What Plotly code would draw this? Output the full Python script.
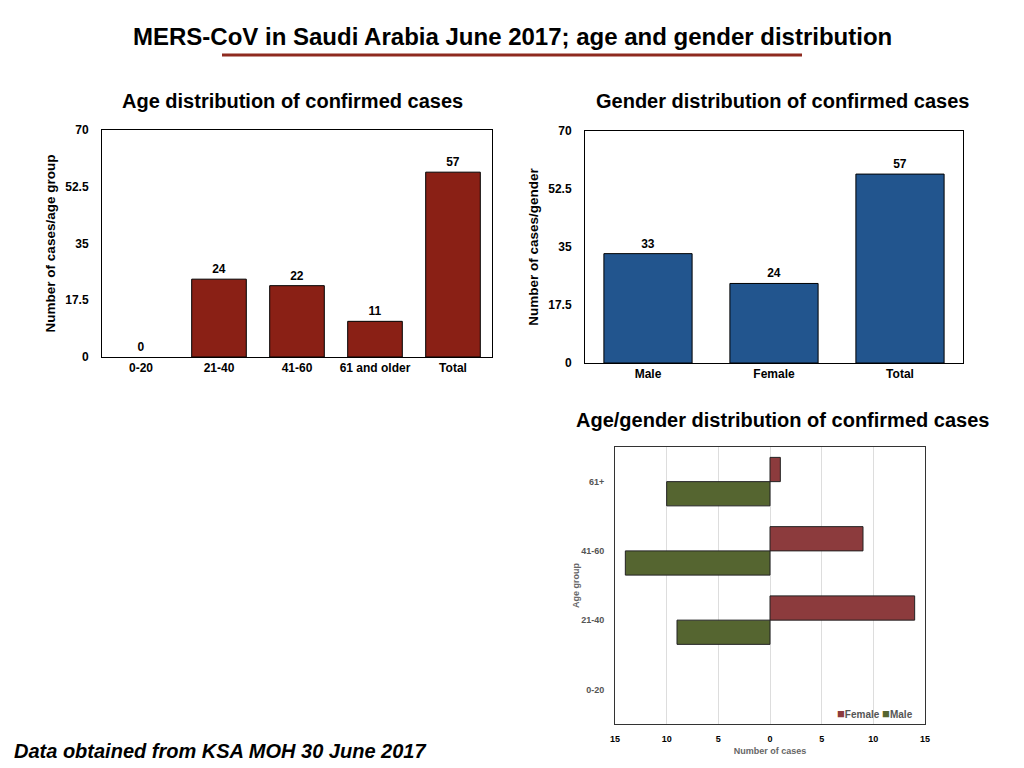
import plotly.graph_objects as go

# data
age_groups = ["0-20", "21-40", "41-60", "61 and older", "Total"]
age_cases = [0, 24, 22, 11, 57]

genders = ["Male", "Female", "Total"]
gender_cases = [33, 24, 57]

pyr_groups = ["0-20", "21-40", "41-60", "61+"]
pyr_female = [0, 14, 9, 1]
pyr_male = [0, 9, 14, 10]

y_ticks = [0, 17.5, 35, 52.5, 70]
x_ticks = [-15, -10, -5, 0, 5, 10, 15]

FONT = "Liberation Sans"
RED = "#8a2015"
BLUE = "#22558e"
F_COL = "#8c3b3d"
M_COL = "#556530"

# page body adds an 8px offset, so the figure is a bit smaller
W, H, OFF = 1016, 760, 8


def px_x(v):
    return (v - OFF) / W


def px_y(v):
    return 1 - (v - OFF) / H


def edge(vals, w=1):
    # no outline on empty bars
    return [0 if v == 0 else w for v in vals]


fig = go.Figure()

######### AGE #########
fig.add_trace(
    go.Bar(
        x=age_groups,
        y=age_cases,
        text=age_cases,
        textposition="outside",
        cliponaxis=False,
        marker=dict(color=RED, line=dict(color="black", width=edge(age_cases))),
        textfont=dict(family=FONT, size=12, color="black", weight="bold"),
        showlegend=False,
        xaxis="x",
        yaxis="y",
    )
)

######### GENDER #########
fig.add_trace(
    go.Bar(
        x=genders,
        y=gender_cases,
        text=gender_cases,
        textposition="outside",
        cliponaxis=False,
        marker=dict(color=BLUE, line=dict(color="black", width=1)),
        textfont=dict(family=FONT, size=12, color="black", weight="bold"),
        showlegend=False,
        xaxis="x2",
        yaxis="y2",
    )
)

######### PYRAMID #########
fig.add_trace(
    go.Bar(
        y=pyr_groups,
        x=[-v for v in pyr_male],
        orientation="h",
        name="Male",
        marker=dict(color=M_COL, line=dict(color="#222", width=edge(pyr_male))),
        showlegend=False,
        xaxis="x3",
        yaxis="y3",
    )
)
fig.add_trace(
    go.Bar(
        y=pyr_groups,
        x=pyr_female,
        orientation="h",
        name="Female",
        marker=dict(color=F_COL, line=dict(color="#222", width=edge(pyr_female))),
        showlegend=False,
        xaxis="x3",
        yaxis="y3",
    )
)

tick_font = dict(family=FONT, size=12, color="black", weight="bold")
ytitle_font = dict(family=FONT, size=13.5, color="black", weight="bold")
box = dict(showline=True, linecolor="black", linewidth=1, mirror=True, automargin=False)

fig.update_layout(
    width=W,
    height=H,
    margin=dict(l=0, r=0, t=0, b=0, autoexpand=False),
    paper_bgcolor="white",
    plot_bgcolor="white",
    barmode="group",
    font=dict(family=FONT),
    xaxis=dict(
        domain=[px_x(102), px_x(492)],
        anchor="y",
        tickfont=tick_font,
        ticks="",
        **box,
    ),
    yaxis=dict(
        domain=[px_y(357), px_y(130)],
        anchor="x",
        range=[0, 70],
        tickvals=y_ticks,
        ticktext=["0", "17.5", "35", "52.5", "70"],
        tickfont=tick_font,
        showgrid=False,
        ticks="",
        ticklabelstandoff=10,
        title=dict(text="Number of cases/age group", font=ytitle_font, standoff=6),
        **box,
    ),
    xaxis2=dict(
        domain=[px_x(585), px_x(963)],
        anchor="y2",
        tickfont=tick_font,
        ticks="",
        **box,
    ),
    yaxis2=dict(
        domain=[px_y(363), px_y(131)],
        anchor="x2",
        range=[0, 70],
        tickvals=y_ticks,
        ticktext=["0", "17.5", "35", "52.5", "70"],
        tickfont=tick_font,
        showgrid=False,
        ticks="",
        ticklabelstandoff=10,
        title=dict(text="Number of cases/gender", font=ytitle_font, standoff=6),
        **box,
    ),
    xaxis3=dict(
        domain=[px_x(615), px_x(925)],
        anchor="y3",
        range=[-15, 15],
        tickvals=x_ticks,
        ticktext=[str(abs(v)) for v in x_ticks],
        tickfont=dict(family=FONT, size=9, color="black", weight="bold"),
        showgrid=True,
        gridcolor="#dddddd",
        zeroline=False,
        ticks="",
        ticklabelstandoff=6,
        title=dict(
            text="Number of cases",
            font=dict(family=FONT, size=9, color="#666", weight="bold"),
            standoff=4,
        ),
        showline=True,
        linecolor="#333",
        linewidth=1,
        mirror=True,
        automargin=False,
    ),
    yaxis3=dict(
        domain=[px_y(724), px_y(447)],
        anchor="x3",
        tickfont=dict(family=FONT, size=9, color="#555", weight="bold"),
        ticks="",
        ticklabelstandoff=8,
        title=dict(
            text="Age group",
            font=dict(family=FONT, size=9, color="#666", weight="bold"),
            standoff=0,
        ),
        showline=True,
        linecolor="#333",
        linewidth=1,
        mirror=True,
        automargin=False,
    ),
    bargap=0.3,
    bargroupgap=0,
)


def label(text, x, y, size, xanchor="center", color="black"):
    fig.add_annotation(
        text=text, x=px_x(x), y=px_y(y), xref="paper", yref="paper",
        showarrow=False, xanchor=xanchor, yanchor="middle",
        font=dict(family=FONT, size=size, color=color, weight="bold"),
    )


# legend for the pyramid
label(
    f"<span style='color:{F_COL};font-size:13px'>■</span>Female "
    f"<span style='color:{M_COL};font-size:13px'>■</span>Male",
    915, 713, 10, xanchor="right", color="#555",
)

# headings
label("MERS-CoV in Saudi Arabia June 2017; age and gender distribution", 512, 37, 24)
fig.add_shape(
    type="line", xref="paper", yref="paper",
    x0=px_x(222), x1=px_x(802), y0=px_y(55), y1=px_y(55),
    line=dict(color="#8e2a1f", width=3),
)
label("Age distribution of confirmed cases", 292, 101, 20)
label("Gender distribution of confirmed cases", 782, 101, 20)
label("Age/gender distribution of confirmed cases", 782, 420, 20)
label("<i>Data obtained from KSA MOH 30 June 2017</i>", 12, 751, 20, xanchor="left")

fig.write_html("out.html")
